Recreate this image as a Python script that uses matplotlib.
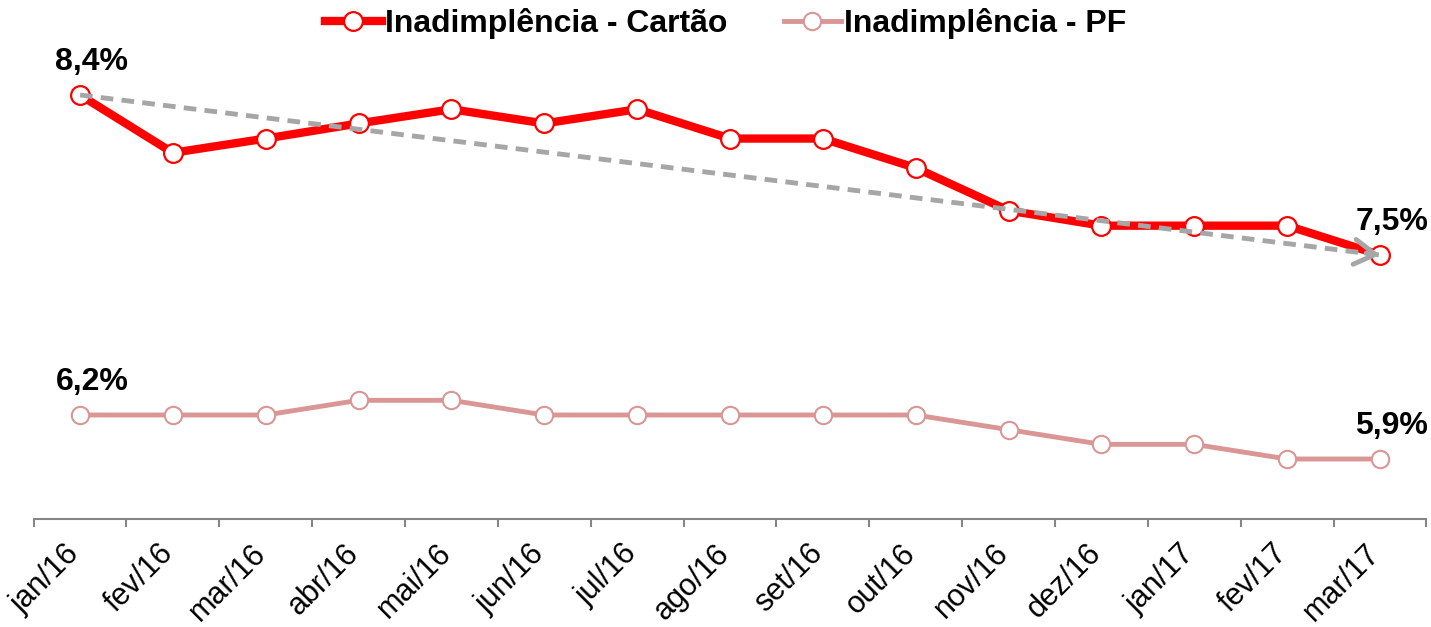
#!/usr/bin/env python3
"""Inadimplência Cartão vs PF, jan/16 - mar/17"""

import numpy as np
import matplotlib
matplotlib.use('Agg')
import matplotlib.pyplot as plt
import matplotlib.transforms as mtransforms

plt.rcParams['font.family'] = ['Liberation Sans', 'DejaVu Sans']

months = ['jan/16', 'fev/16', 'mar/16', 'abr/16', 'mai/16', 'jun/16', 'jul/16',
          'ago/16', 'set/16', 'out/16', 'nov/16', 'dez/16', 'jan/17', 'fev/17', 'mar/17']
cartao = [8.40, 8.075, 8.155, 8.24, 8.32, 8.24, 8.32, 8.155, 8.155, 7.99,
          7.75, 7.665, 7.665, 7.665, 7.50]
pf = [6.2, 6.2, 6.2, 6.3, 6.3, 6.2, 6.2, 6.2, 6.2, 6.2, 6.1, 6.0, 6.0, 5.9, 5.9]

RED = '#FF0000'
PINK = '#D99694'
GRAY = '#A6A6A6'
AXIS = '#868686'

x = np.arange(len(months))

fig = plt.figure(figsize=(14.31, 6.27), dpi=100)
ax = fig.add_axes([0.02348, 0.17225, 0.97331, 0.77831])
ax2 = ax.twinx()

# PF on the secondary (hidden) axis
l2, = ax2.plot(x, pf, color=PINK, lw=3.5, marker='o', ms=12.5,
               mfc='white', mec=PINK, mew=1.5, label='Inadimplência - PF', zorder=3)
l1, = ax.plot(x, cartao, color=RED, lw=6, marker='o', ms=13.5,
              mfc='white', mec=RED, mew=1.6, label='Inadimplência - Cartão', zorder=3)

# trend arrow
ax.plot([x[0], x[-1]], [cartao[0], cartao[-1]], color=GRAY, lw=3.5,
        dashes=(2.6, 1.7), zorder=4)
back = 0.15
ax.annotate('', xy=(x[-1], cartao[-1]),
            xytext=(x[-1] - back, cartao[-1] + (cartao[0] - cartao[-1]) * back / x[-1]),
            arrowprops=dict(arrowstyle='->,head_length=0.75,head_width=0.45',
                            color=GRAY, lw=3.5, shrinkA=0, shrinkB=0,
                            mutation_scale=20), zorder=4)

ax.set_xlim(-0.5, len(months) - 0.5)
ax.set_ylim(6.015, 8.76)
ax2.set_ylim(5.491, 8.818)

# labels for first/last points
def label(a, xi, yi, txt):
    a.annotate(txt, (xi, yi), xytext=(8.5, 24), textcoords='offset points',
               ha='center', va='center', fontsize=23, fontweight='bold', color='black')

label(ax, x[0], cartao[0], '8,4%')
label(ax, x[-1], cartao[-1], '7,5%')
label(ax2, x[0], pf[0], '6,2%')
label(ax2, x[-1], pf[-1], '5,9%')

for a in (ax, ax2):
    for s in ('left', 'right', 'top'):
        a.spines[s].set_visible(False)
    a.set_yticks([])
ax2.spines['bottom'].set_visible(False)
ax.spines['bottom'].set_color(AXIS)
ax.spines['bottom'].set_linewidth(1.5)

ax.set_xticks(x)
ax.set_xticklabels(months, rotation=45, ha='right', fontsize=22)
ax.set_xticks(np.arange(len(months) + 1) - 0.5, minor=True)
ax.tick_params(axis='x', which='major', length=0, pad=14)
ax.tick_params(axis='x', which='minor', length=6, width=1.5, color=AXIS)
shift = mtransforms.ScaledTranslation(6 / 100, 0, fig.dpi_scale_trans)
for t in ax.get_xticklabels():
    t.set_transform(t.get_transform() + shift)

fig.legend(handles=[l1, l2], loc='center', bbox_to_anchor=(0.507, 0.963),
           ncol=2, frameon=False, prop=dict(size=23, weight='bold'),
           handlelength=1.8, handletextpad=0.1, columnspacing=1.75)

fig.savefig('out.png', dpi=100)
